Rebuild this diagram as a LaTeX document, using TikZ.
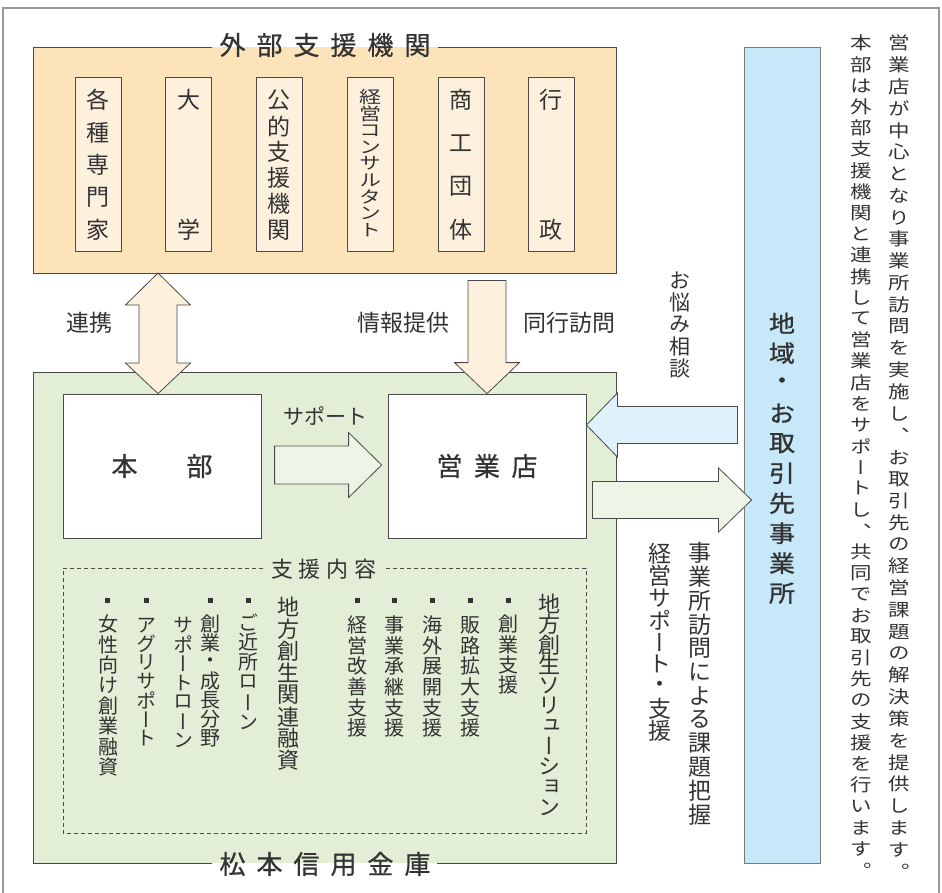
\documentclass[tikz,border=0pt]{standalone}
\usepackage{fontspec}
\usepackage{graphicx}
\usetikzlibrary{calc}
\newfontfamily\jp{Noto Sans CJK JP}
\newfontfamily\jpb[FakeBold=0.7]{Noto Sans CJK JP}
\newfontfamily\jpv[Script=CJK,RawFeature=+vert]{Noto Sans CJK JP}
\newfontfamily\jpvb[Script=CJK,RawFeature=+vert,FakeBold=1]{Noto Sans CJK JP}
\newcommand\fs[1]{\fontsize{#1}{#1}\selectfont}
\definecolor{orangeF}{HTML}{FDE3B9}
\definecolor{orangeL}{HTML}{FDF0DC}
\definecolor{greenF}{HTML}{E2EED6}
\definecolor{greenL}{HTML}{EEF5E6}
\definecolor{blueF}{HTML}{C6E8F8}
\definecolor{blueL}{HTML}{DFF1FA}
\definecolor{txt}{HTML}{333333}
\definecolor{edge}{HTML}{4A4A4A}
\definecolor{frame}{HTML}{999999}
\makeatletter
\newcommand\vst[3][1]{\vbox{\offinterlineskip\def\vs@s{#1}\def\vs@p{#2}\vs@loop#3\@nil}}
\def\vs@loop#1{\ifx#1\@nil\else\hbox to 1em{\hss\vbox to \vs@p{\vss\hbox{\scalebox{1}[\vs@s]{#1}}\vss}\hss}\expandafter\vs@loop\fi}
\newcommand\hst[2]{\hbox{\def\hs@p{#1}\hs@loop#2\@nil}}
\def\hs@loop#1{\ifx#1\@nil\else\hbox to \hs@p{\hss#1\hss}\expandafter\hs@loop\fi}
\makeatother
\tikzset{
  lbl/.style={inner sep=0pt, text=txt},
  vtx/.style={inner sep=0pt, text=txt, anchor=north},
  ibox/.style={draw=edge, fill=orangeL, line width=0.8pt, minimum width=46pt, minimum height=174pt, inner sep=0pt},
  wbox/.style={draw=edge, fill=white, line width=0.8pt, minimum width=198pt, minimum height=144pt, inner sep=0pt, text=txt, font=\jpb\fs{26}},
  arr/.style={draw=edge, line width=0.8pt},
  pics/barrow/.style n args={4}{code={\path[pic actions] (0,0) -- (-#2,-#4) -- (-#2,-#3) -- (-#1,-#3) -- (-#1,#3) -- (-#2,#3) -- (-#2,#4) -- cycle;}}
}
\begin{document}
\begin{tikzpicture}[x=1pt,y=-1pt]
\useasboundingbox (0,0) rectangle (942,893);
% outer frame
\draw[frame, line width=1.2pt] (3,900) -- (3,8) -- (939,8) -- (939,900);
% external support box
\fill[orangeF] (33,47) rectangle (616,273);
\draw[edge, line width=0.9pt] (212,47) -- (33,47) -- (33,273) -- (616,273) -- (616,47) -- (438,47);
\node[lbl, font=\jpb\fs{26}] (t1) at (325,45) {\hst{37pt}{外部支援機関}};
\node[ibox] (b1) at (98,164) {};
\node[ibox] (b2) at (188.5,164) {};
\node[ibox] (b3) at (279,164) {};
\node[ibox] (b4) at (370,164) {};
\node[ibox] (b5) at (461,164) {};
\node[ibox] (b6) at (551,164) {};
\node[vtx, font=\jpv\fs{23}] (b1t) at (98,83.75) {\vst{32.5pt}{各種専門家}};
\node[lbl, font=\jp\fs{23}] (b2a) at (188.5,100) {大};
\node[lbl, font=\jp\fs{23}] (b2b) at (188.5,230) {学};
\node[vtx, font=\jpv\fs{23}] (b3t) at (279,87) {\vst{26pt}{公的支援機関}};
\node[vtx, font=\jpv\fs{22}] (b4t) at (370,88.7) {\vst[0.78]{16.6pt}{経営コンサルタント}};
\node[vtx, font=\jpv\fs{23}] (b5t) at (461,78.3) {\vst{43.3pt}{商工団体}};
\node[lbl, font=\jp\fs{23}] (b6a) at (551,100) {行};
\node[lbl, font=\jp\fs{23}] (b6b) at (551,230) {政};
% bank box
\fill[greenF] (33,372) rectangle (616,863);
\draw[edge, line width=0.9pt] (437,863) -- (616,863) -- (616,372) -- (33,372) -- (33,863) -- (212,863);
\node[lbl, font=\jpb\fs{26}] (t2) at (325,864) {\hst{37pt}{松本信用金庫}};
\node[wbox] (honbu) at (162,466) {\hst{75pt}{本部}};
\node[wbox] (eigyo) at (487,466) {\hst{37.5pt}{営業店}};
% support content
\draw[edge, line width=0.8pt, dash pattern=on 4pt off 3pt] (263,568) -- (63,568) -- (63,833) -- (586,833) -- (586,568) -- (383,568);
\node[lbl, font=\jp\fs{22}] (t3) at (324,569) {\hst{28pt}{支援内容}};
\foreach \bx in {107,146,210,248,357,394,432,470,508} \fill[txt] (\bx-2.5,597.5) rectangle (\bx+2.5,602.5);
\node[vtx, font=\jpv\fs{20}] (s1) at (108,613.8) {\vst{20.4pt}{女性向け創業融資}};
\node[vtx, font=\jpv\fs{20}] (s2) at (146,615.6) {\vst{18.8pt}{アグリサポート}};
\node[vtx, font=\jpv\fs{20}] (s3b) at (183,615.4) {\vst{19.2pt}{サポートローン}};
\node[vtx, font=\jpv\fs{20}] (s3a) at (210,614.5) {\vst{19pt}{創業・成長分野}};
\node[vtx, font=\jpv\fs{20}] (s4) at (248,612) {\vst{20pt}{ご近所ローン}};
\node[vtx, font=\jpv\fs{22}] (h1) at (288,596) {\vst{21.9pt}{地方創生関連融資}};
\node[vtx, font=\jpv\fs{20}] (s5) at (357,614.7) {\vst{20.6pt}{経営改善支援}};
\node[vtx, font=\jpv\fs{20}] (s6) at (394,614.7) {\vst{20.6pt}{事業承継支援}};
\node[vtx, font=\jpv\fs{20}] (s7) at (432,614.7) {\vst{20.6pt}{海外展開支援}};
\node[vtx, font=\jpv\fs{20}] (s8) at (470,614.7) {\vst{20.6pt}{販路拡大支援}};
\node[vtx, font=\jpv\fs{20}] (s9) at (508,613.85) {\vst{20.3pt}{創業支援}};
\node[vtx, font=\jpv\fs{22}] (h2) at (549,593.85) {\vst{20.3pt}{地方創生ソリューション}};
% customer box
\node[draw=frame!80!black, fill=blueF, line width=0.9pt, minimum width=76pt, minimum height=816pt, inner sep=0pt] (cust) at (782,455) {};
\node[vtx, font=\jpvb\fs{26}] (ct) at (782,308) {\vst[0.9]{30pt}{地域・お取引先事業所}};
% labels
\node[lbl, font=\jp\fs{23}] (l1) at (89,323) {連携};
\node[lbl, font=\jp\fs{23}] (l2) at (403,323) {情報提供};
\node[lbl, font=\jp\fs{23}] (l3) at (569,323) {同行訪問};
\node[lbl, font=\jp\fs{21}] (l4) at (325,416) {サポート};
\node[vtx, font=\jpv\fs{21}] (l5) at (680,269) {\vst{22pt}{お悩み相談}};
\node[vtx, font=\jpv\fs{23}] (l6) at (700,541) {\vst{23.8pt}{事業所訪問による課題把握}};
\node[vtx, font=\jpv\fs{23}] (l7) at (660,542) {\vst{22.2pt}{経営サポート・支援}};
% right explanation
\node[vtx, font=\jpv\fs{21.5}] (r1) at (899,32) {\vst[0.82]{21.8pt}{営業店が中心となり事業所訪問を実施し、お取引先の経営課題の解決策を提供します。}};
\node[vtx, font=\jpv\fs{21.5}] (r2) at (861,32.4) {\vst[0.82]{21.2pt}{本部は外部支援機関と連携して営業店をサポートし、共同でお取引先の支援を行います。}};
% arrows
\draw[arr, fill=orangeL] (158,273) -- (190.5,305) -- (177,305) -- (177,363) -- (190.5,363) -- ($(honbu.north)+(-4,0)$) -- (125.5,363) -- (139,363) -- (139,305) -- (125.5,305) -- cycle;
\pic[arr, fill=orangeL, rotate=-90] at (eigyo.north) {barrow={113}{31}{19}{32.5}};
\pic[arr, fill=greenL] at ($(eigyo.west)+(-6,-1)$) {barrow={107}{33}{19}{32.5}};
\pic[arr, fill=blueL, rotate=180] at ($(eigyo.east)+(0,-41)$) {barrow={151}{31}{18.5}{32}};
\pic[arr, fill=greenL] at ($(cust.west)+(8,45)$) {barrow={159}{33}{18.5}{32}};
\end{tikzpicture}
\end{document}
